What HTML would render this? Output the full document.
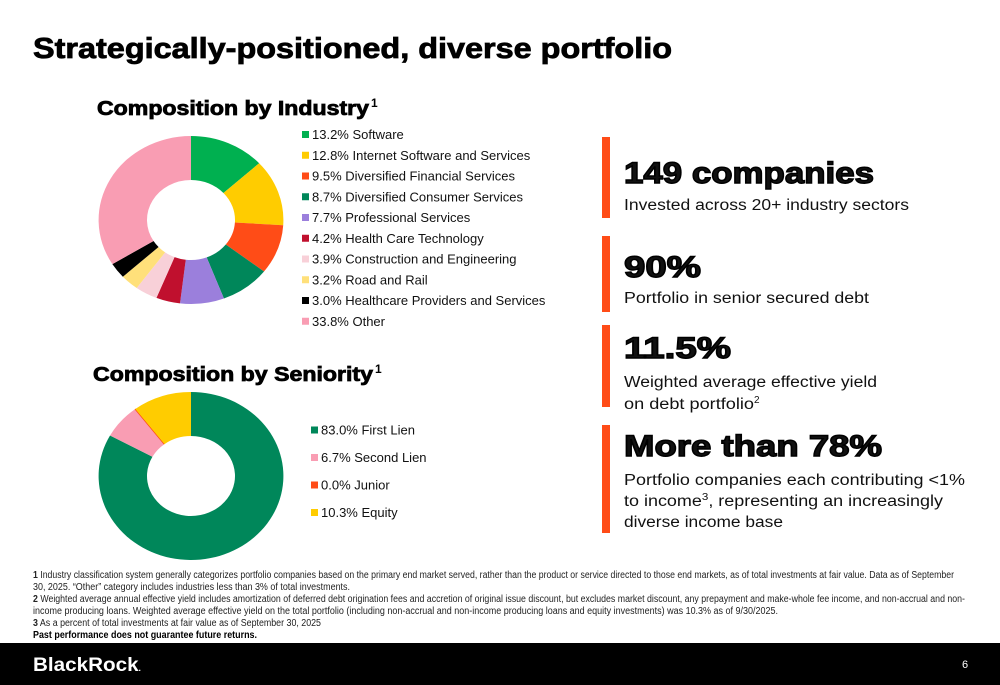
<!DOCTYPE html>
<html><head><meta charset="utf-8"><style>
html,body{margin:0;padding:0;background:#fff;}
svg{display:block;font-family:"Liberation Sans",sans-serif;}
</style></head><body>
<svg id="s" width="1000" height="685" viewBox="0 0 1000 685" xmlns="http://www.w3.org/2000/svg">
<text x="33" y="58" font-size="29" font-weight="bold" textLength="639" lengthAdjust="spacingAndGlyphs" stroke="#000" stroke-width="0.8">Strategically-positioned, diverse portfolio</text>
<text x="97" y="115" font-size="20" font-weight="bold" textLength="272" lengthAdjust="spacingAndGlyphs" stroke="#000" stroke-width="0.8">Composition by Industry</text>
<text x="371" y="107" font-size="12" font-weight="bold">1</text>
<text x="93" y="381" font-size="20" font-weight="bold" textLength="280" lengthAdjust="spacingAndGlyphs" stroke="#000" stroke-width="0.8">Composition by Seniority</text>
<text x="375" y="373" font-size="12" font-weight="bold">1</text>
<g transform="translate(191,0) scale(1.1,1) translate(-191,0)"><g id="d1"></g></g>
<g id="l1"></g>
<g transform="translate(191,0) scale(1.1,1) translate(-191,0)"><g id="d2"></g></g>
<g id="l2"></g>
<g fill="#111">
<rect x="602" y="137" width="8" height="81" fill="#ff4c17"/>
<rect x="602" y="236" width="8" height="76" fill="#ff4c17"/>
<rect x="602" y="325" width="8" height="82" fill="#ff4c17"/>
<rect x="602" y="425" width="8" height="108" fill="#ff4c17"/>
<text x="624" y="183" font-size="30" font-weight="bold" textLength="250" lengthAdjust="spacingAndGlyphs" stroke="#000" stroke-width="1.4">149 companies</text>
<text x="624" y="210" font-size="15.5" textLength="285" lengthAdjust="spacingAndGlyphs">Invested across 20+ industry sectors</text>
<text x="624" y="277" font-size="30" font-weight="bold" textLength="77" lengthAdjust="spacingAndGlyphs" stroke="#000" stroke-width="1.4">90%</text>
<text x="624" y="303" font-size="15.5" textLength="245" lengthAdjust="spacingAndGlyphs">Portfolio in senior secured debt</text>
<text x="624" y="358" font-size="30" font-weight="bold" textLength="107" lengthAdjust="spacingAndGlyphs" stroke="#000" stroke-width="1.4">11.5%</text>
<text x="624" y="387" font-size="15.5" textLength="253" lengthAdjust="spacingAndGlyphs">Weighted average effective yield</text>
<text x="624" y="409" font-size="15.5"><tspan textLength="130" lengthAdjust="spacingAndGlyphs">on debt portfolio</tspan><tspan font-size="10" dy="-6">2</tspan></text>
<text x="624" y="456" font-size="30" font-weight="bold" textLength="258" lengthAdjust="spacingAndGlyphs" stroke="#000" stroke-width="1.4">More than 78%</text>
<text x="624" y="485" font-size="15.5" textLength="341" lengthAdjust="spacingAndGlyphs">Portfolio companies each contributing &lt;1%</text>
<text x="624" y="506" font-size="15.5" textLength="319" lengthAdjust="spacingAndGlyphs">to income<tspan font-size="10" dy="-6">3</tspan><tspan dy="6">, representing an increasingly</tspan></text>
<text x="624" y="527" font-size="15.5" textLength="159" lengthAdjust="spacingAndGlyphs">diverse income base</text>
</g>
<g font-size="10" fill="#222">
<text x="33" y="578" textLength="921" lengthAdjust="spacingAndGlyphs"><tspan font-weight="bold">1</tspan> Industry classification system generally categorizes portfolio companies based on the primary end market served, rather than the product or service directed to those end markets, as of total investments at fair value.  Data as of September</text>
<text x="33" y="590" textLength="317" lengthAdjust="spacingAndGlyphs">30, 2025. “Other” category includes industries less than 3% of total investments.</text>
<text x="33" y="602" textLength="932" lengthAdjust="spacingAndGlyphs"><tspan font-weight="bold">2</tspan> Weighted average annual effective yield includes amortization of deferred debt origination fees and accretion of original issue discount, but excludes market discount, any prepayment and make-whole fee income, and non-accrual and non-</text>
<text x="33" y="614" textLength="745" lengthAdjust="spacingAndGlyphs">income producing loans. Weighted average effective yield on the total portfolio (including non-accrual and non-income producing loans and equity investments) was 10.3% as of 9/30/2025.</text>
<text x="33" y="626" textLength="288" lengthAdjust="spacingAndGlyphs"><tspan font-weight="bold">3</tspan> As a percent of total investments at fair value as of September 30, 2025</text>
<text x="33" y="638" font-weight="bold" fill="#000" textLength="224" lengthAdjust="spacingAndGlyphs">Past performance does not guarantee future returns.</text>
</g>
<rect x="0" y="643" width="1000" height="42" fill="#000"/>
<text x="33" y="671" font-size="19" font-weight="bold" fill="#fff" textLength="108" lengthAdjust="spacingAndGlyphs">BlackRock<tspan font-size="8">.</tspan></text>
<text x="962" y="668" font-size="11" fill="#fff">6</text>
</svg>
<script>
const indLabels=["Software","Internet Software and Services","Diversified Financial Services","Diversified Consumer Services","Professional Services","Health Care Technology","Construction and Engineering","Road and Rail","Healthcare Providers and Services","Other"];
const indValues=[13.2,12.8,9.5,8.7,7.7,4.2,3.9,3.2,3.0,33.8];
const indColors=["#00b050","#ffcc00","#ff4c17","#00875a","#9b7fdc","#c0102e","#f8d0d8","#ffe07a","#000000","#f99db3"];
const senLabels=["First Lien","Second Lien","Junior","Equity"];
const senValues=[83.0,6.7,0.0,10.3];
const senColors=["#00875a","#f99db3","#ff4c17","#ffcc00"];
const NS="http://www.w3.org/2000/svg";
function arcPath(cx,cy,r0,r1,a0,a1){
  const p=(r,a)=>[cx+r*Math.sin(a),cy-r*Math.cos(a)];
  const large=(a1-a0)>Math.PI?1:0;
  const [x0,y0]=p(r1,a0),[x1,y1]=p(r1,a1),[x2,y2]=p(r0,a1),[x3,y3]=p(r0,a0);
  return `M${x0},${y0}A${r1},${r1} 0 ${large} 1 ${x1},${y1}L${x2},${y2}A${r0},${r0} 0 ${large} 0 ${x3},${y3}Z`;
}
function donut(gid,vals,cols,cx,cy,r0,r1,names){
  const g=document.getElementById(gid);
  const tot=vals.reduce((a,b)=>a+b,0);let a=0;
  vals.forEach((v,i)=>{
    const a1=a+v/tot*2*Math.PI;
    let el;
    if(v===0){
      el=document.createElementNS(NS,"line");
      el.setAttribute("x1",cx+r0*Math.sin(a));el.setAttribute("y1",cy-r0*Math.cos(a));
      el.setAttribute("x2",cx+r1*Math.sin(a));el.setAttribute("y2",cy-r1*Math.cos(a));
      el.setAttribute("stroke",cols[i]);el.setAttribute("stroke-width","1.5");
    }else{
      el=document.createElementNS(NS,"path");
      el.setAttribute("d",arcPath(cx,cy,r0,r1,a,a1));el.setAttribute("fill",cols[i]);
    }
    
    
    g.appendChild(el);a=a1;
  });
}
function legend(gid,vals,labels,cols,x,y0,step,fs){
  const g=document.getElementById(gid);
  vals.forEach((v,i)=>{
    const y=y0+i*step;
    const r=document.createElementNS(NS,"rect");
    r.setAttribute("x",x);r.setAttribute("y",y-3.5);r.setAttribute("width",7);r.setAttribute("height",7);r.setAttribute("fill",cols[i]);
    
    
    g.appendChild(r);
    const t=document.createElementNS(NS,"text");
    t.setAttribute("x",x+10);t.setAttribute("y",y+4.5);t.setAttribute("font-size",fs);t.setAttribute("fill","#111");
    t.textContent=v.toFixed(1)+"% "+labels[i];
    
    
    g.appendChild(t);
  });
}
donut("d1",indValues,indColors,191,220,40,84,indLabels);
legend("l1",indValues,indLabels,indColors,302,134.5,20.75,13);
donut("d2",senValues,senColors,191,476,40,84,senLabels);
legend("l2",senValues,senLabels,senColors,311,430,27.5,13);
</script>
</body></html>
